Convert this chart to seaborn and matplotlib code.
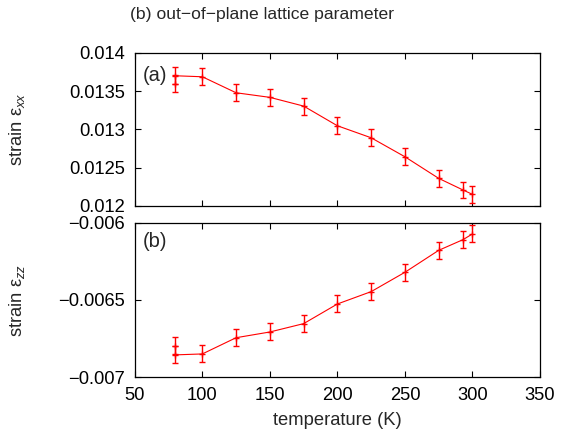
import matplotlib
matplotlib.use("Agg")
import matplotlib.pyplot as plt
import seaborn as sns
import pandas as pd

sns.set_theme(style="ticks")
plt.rcParams['font.family'] = ['Liberation Sans', 'DejaVu Sans']
plt.rcParams['mathtext.fontset'] = 'custom'
plt.rcParams['mathtext.rm'] = 'Liberation Sans'
plt.rcParams['mathtext.it'] = 'Liberation Sans:italic'

# temperature series (K)
temperature = [80, 100, 125, 150, 175, 200, 225, 250, 275, 293, 300]

# in-plane strain
strain_xx = [0.01370, 0.013687, 0.013478, 0.013418, 0.013304, 0.013047,
             0.01289, 0.012642, 0.01236, 0.012208, 0.012151]
err_xx = 0.00011

# out-of-plane strain
strain_zz = [-0.006855, -0.006849, -0.006744, -0.006707, -0.006653, -0.006526,
             -0.006446, -0.006321, -0.006179, -0.00611, -0.006073]
err_zz = 0.000055

# additional low-temperature measurement
extra_T = [80]
extra_xx = [0.013595]
extra_zz = [-0.006796]

RED = "#ff0000"
FS = 13.2

fig = plt.figure(figsize=(5.76, 4.40), dpi=100)
ax_a = fig.add_axes([0.234, 0.532, 0.7035, 0.348])
ax_b = fig.add_axes([0.234, 0.1425, 0.7035, 0.3515])

df = pd.DataFrame({"T": temperature, "xx": strain_xx, "zz": strain_zz})
df_extra = pd.DataFrame({"T": extra_T, "xx": extra_xx, "zz": extra_zz})

for ax, col, err in [(ax_a, "xx", err_xx), (ax_b, "zz", err_zz)]:
    sns.lineplot(data=df, x="T", y=col, ax=ax, color=RED, linewidth=0.8,
                 marker="+", markersize=4, markeredgewidth=1.0,
                 markeredgecolor=RED, sort=False)
    ax.errorbar(df["T"], df[col], yerr=err, fmt="none", color=RED, ecolor=RED,
                elinewidth=1.0, capsize=2.5, capthick=1.0)
    ax.errorbar(df_extra["T"], df_extra[col], yerr=err, fmt="+", color=RED,
                ecolor=RED, markeredgecolor=RED, markersize=4,
                elinewidth=1.0, capsize=2.5, capthick=1.0)
    ax.set_xlim(50, 350)
    ax.set_xticks([50, 100, 150, 200, 250, 300, 350])
    ax.tick_params(direction="in", top=True, right=True, length=4, width=0.8,
                   labelsize=FS, pad=7, colors="black")
    for s in ax.spines.values():
        s.set_linewidth(0.9)
        s.set_color("black")
    ax.set_xlabel("")

ax_a.set_ylim(0.012, 0.014)
ax_a.set_yticks([0.012, 0.0125, 0.013, 0.0135, 0.014])
ax_a.set_yticklabels(["0.012", "0.0125", "0.013", "0.0135", "0.014"])
ax_a.tick_params(labelbottom=False)
ax_a.set_ylabel("strain ε$_{xx}$", fontsize=FS)
ax_a.yaxis.set_label_coords(-0.265, 0.5)
ax_a.text(0.02, 0.85, "(a)", transform=ax_a.transAxes, fontsize=14.5, va="center")

ax_b.set_ylim(-0.007, -0.006)
ax_b.set_yticks([-0.007, -0.0065, -0.006])
ax_b.set_yticklabels(["\u22120.007", "\u22120.0065", "\u22120.006"])
ax_b.set_ylabel("strain ε$_{zz}$", fontsize=FS)
ax_b.yaxis.set_label_coords(-0.265, 0.5)
ax_b.set_xlabel("temperature (K)", fontsize=FS, labelpad=6)
ax_b.text(0.02, 0.88, "(b)", transform=ax_b.transAxes, fontsize=14.5, va="center")

fig.text(0.2257, 0.966, "(b) out\u2212of\u2212plane lattice parameter", fontsize=12.6,
         ha="left", va="center")

fig.savefig("out.png", dpi=100)
